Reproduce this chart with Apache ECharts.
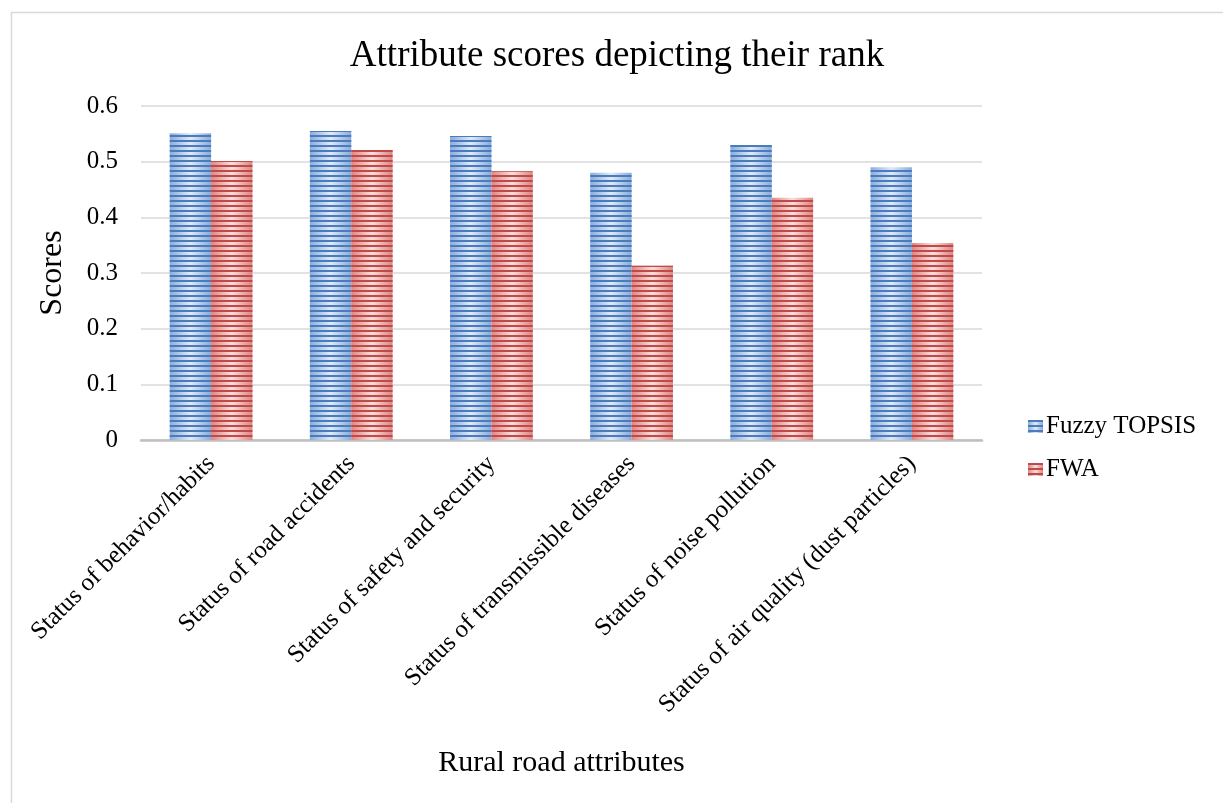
<!DOCTYPE html>
<html>
<head>
<meta charset="utf-8">
<script src="https://cdn.jsdelivr.net/npm/echarts@6/dist/echarts.min.js"></script>
<style>
  html, body { margin: 0; padding: 0; background: #ffffff; }
  #chart { width: 1223px; height: 803px; }
</style>
</head>
<body>
<div id="chart"></div>
<script>
// Rural road attributes and their scores under two ranking methods
const categories = [
  'Status of behavior/habits',
  'Status of road accidents',
  'Status of safety and security',
  'Status of transmissible diseases',
  'Status of noise pollution',
  'Status of air quality (dust particles)'
];
const fuzzyTopsis = [0.551, 0.555, 0.546, 0.480, 0.530, 0.490];
const fwa = [0.501, 0.521, 0.483, 0.313, 0.435, 0.354];
const yTicks = [0, 0.1, 0.2, 0.3, 0.4, 0.5, 0.6];

const serif = '"Liberation Serif", "DejaVu Serif", serif';

// Horizontal gradient with darker edges and a light centre, overlaid with stripes
function barFill(edge, mid) {
  return new echarts.graphic.LinearGradient(0, 0, 1, 0, [
    { offset: 0, color: edge },
    { offset: 0.5, color: mid },
    { offset: 1, color: edge }
  ]);
}
function stripes(color) {
  return {
    symbol: 'rect',
    symbolSize: 1,
    color: color,
    dashArrayX: [1, 0],
    dashArrayY: [2, 2.5],
    rotation: 0
  };
}

const chart = echarts.init(document.getElementById('chart'), null, { renderer: 'canvas' });
chart.setOption({
  animation: false,
  backgroundColor: '#ffffff',
  title: {
    text: 'Attribute scores depicting their rank',
    left: 612,
    textAlign: 'center',
    top: 33,
    textStyle: { fontFamily: serif, fontSize: 37, fontWeight: 'normal', color: '#000' }
  },
  graphic: [{
    type: 'rect',
    shape: { x: 11.5, y: 12.5, width: 1300, height: 900 },
    style: { fill: 'none', stroke: '#d9d9d9', lineWidth: 1.5 },
    silent: true
  }],
  legend: {
    orient: 'vertical',
    left: 1023,
    top: 409,
    itemGap: 18,
    itemWidth: 15,
    itemHeight: 13,
    icon: 'rect',
    textStyle: { fontFamily: serif, fontSize: 25, color: '#000', padding: [0, 0, 0, -2] },
    data: ['Fuzzy TOPSIS', 'FWA']
  },
  grid: { left: 141, right: 241, top: 106, height: 334 },
  xAxis: {
    type: 'category',
    data: categories,
    name: 'Rural road attributes',
    nameLocation: 'middle',
    nameGap: 308,
    nameTextStyle: { fontFamily: serif, fontSize: 30, color: '#000' },
    axisLine: { lineStyle: { color: '#bfbfbf', width: 2.5 } },
    axisTick: { show: false },
    axisLabel: {
      interval: 0,
      rotate: 45,
      margin: 20,
      fontFamily: serif,
      fontSize: 25,
      color: '#000'
    }
  },
  yAxis: {
    type: 'value',
    min: 0,
    max: 0.6,
    interval: 0.1,
    name: 'Scores',
    nameLocation: 'middle',
    nameGap: 72,
    nameRotate: 90,
    nameTextStyle: { fontFamily: serif, fontSize: 32, color: '#000' },
    axisLine: { show: false },
    axisTick: { show: false },
    splitLine: { lineStyle: { color: '#d9d9d9', width: 1.5 } },
    axisLabel: {
      margin: 23,
      fontFamily: serif,
      fontSize: 25,
      color: '#000',
      formatter: v => {
        const t = yTicks.find(k => Math.abs(k - v) < 1e-9);
        return t === undefined ? '' : String(+t.toFixed(1));
      }
    }
  },
  series: [
    {
      name: 'Fuzzy TOPSIS',
      type: 'bar',
      data: fuzzyTopsis,
      barGap: '0%',
      barCategoryGap: '41%',
      itemStyle: {
        color: barFill('#8aacda', '#dfeaf8'),
        decal: stripes('#4a7bbd')
      }
    },
    {
      name: 'FWA',
      type: 'bar',
      data: fwa,
      barGap: '0%',
      barCategoryGap: '41%',
      itemStyle: {
        color: barFill('#de8684', '#f9dedd'),
        decal: stripes('#be4b48')
      }
    }
  ]
});
</script>
</body>
</html>
